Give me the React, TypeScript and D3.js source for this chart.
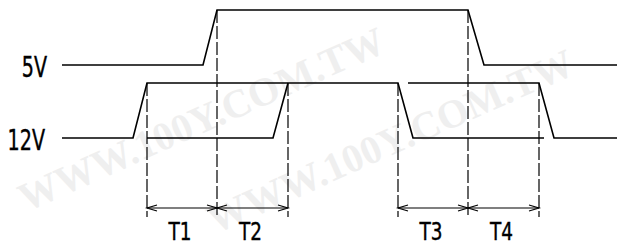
import { useEffect, useRef } from "react";
import * as d3 from "d3";

// time axis in arbitrary units, 0 = where the traces start
const signalNames = ["5V", "12V"];

// [time, level] 0 = low, 1 = high
const trace5V: [number, number][] = [
  [0, 0], [141, 0], [155, 1], [406, 1], [422, 0], [555, 0],
];
const trace12VA: [number, number][] = [
  [0, 0], [71, 0], [85, 1], [336, 1], [351, 0], [482, 0],
];
const trace12VB1: [number, number][] = [
  [85, 0], [211, 0], [226, 1],
];
const trace12VB2: [number, number][] = [
  [346, 1], [477, 1], [492, 0], [555, 0],
];

// dashed markers: time + which signal they hang from
const markerTimes = [85, 155, 226, 336, 406, 477];
const markerFrom = ["12V", "5V", "12V", "12V", "5V", "12V"];

const intervalNames = ["T1", "T2", "T3", "T4"];
const intervalStart = [85, 155, 336, 406];
const intervalEnd = [155, 226, 406, 477];

const watermark = "WWW.100Y.COM.TW";
const wmSpots = [
  [26, 212], [215, 234],
];

const W = 617;
const H = 244;

export default function App() {
  const ref = useRef<SVGSVGElement>(null);

  useEffect(() => {
    const svg = d3.select(ref.current);
    svg.selectAll("*").remove();

    const x = d3.scaleLinear().domain([0, 555]).range([62, 617]);
    const row = d3.scalePoint().domain(signalNames).range([65, 138]);
    const amp = d3.scaleLinear().domain([0, 1]).range([0, -55]);
    const yOf = (name: string) => (lvl: number) => (row(name) as number) + amp(lvl);

    // watermark
    svg
      .append("g")
      .selectAll("text")
      .data(wmSpots)
      .join("text")
      .attr("transform", (d) => `translate(${d[0]},${d[1]}) rotate(-24)`)
      .attr("font-family", "'Liberation Serif', 'DejaVu Serif', serif")
      .attr("font-weight", "bold")
      .attr("font-size", 40)
      .attr("fill", "#efefef")
      .text(watermark);

    const line = (name: string) =>
      d3
        .line<[number, number]>()
        .x((d) => x(d[0]))
        .y((d) => yOf(name)(d[1]));

    const traces: [string, [number, number][]][] = [
      ["5V", trace5V],
      ["12V", trace12VA],
      ["12V", trace12VB1],
      ["12V", trace12VB2],
    ];
    svg
      .append("g")
      .selectAll("path")
      .data(traces)
      .join("path")
      .attr("d", (d) => line(d[0])(d[1]))
      .attr("fill", "none")
      .attr("stroke", "#000")
      .attr("stroke-width", 1.6);

    // dashed markers
    const arrowY = 208;
    svg
      .append("g")
      .selectAll("line")
      .data(markerTimes)
      .join("line")
      .attr("x1", (d) => x(d))
      .attr("x2", (d) => x(d))
      .attr("y1", (d, i) => yOf(markerFrom[i])(1))
      .attr("y2", 217)
      .attr("stroke", "#000")
      .attr("stroke-width", 1.2)
      .attr("stroke-dasharray", "13,3");

    // double arrows
    const arrows = svg.append("g").attr("stroke", "#000").attr("fill", "none").attr("stroke-width", 1.2);
    intervalNames.forEach((n, i) => {
      const a = x(intervalStart[i]);
      const b = x(intervalEnd[i]);
      arrows.append("line").attr("x1", a).attr("x2", b).attr("y1", arrowY).attr("y2", arrowY);
      arrows
        .append("path")
        .attr("d", `M${a + 10},${arrowY - 3}L${a},${arrowY}L${a + 10},${arrowY + 3}`);
      arrows
        .append("path")
        .attr("d", `M${b - 10},${arrowY - 3}L${b},${arrowY}L${b - 10},${arrowY + 3}`);
    });

    const font = "'DejaVu Sans Condensed', 'Liberation Sans Narrow', sans-serif";

    svg
      .append("g")
      .selectAll("text")
      .data(intervalNames)
      .join("text")
      .attr("transform", (d, i) =>
        `translate(${(x(intervalStart[i]) + x(intervalEnd[i])) / 2 - 2},240) scale(0.82,1)`)
      .attr("text-anchor", "middle")
      .attr("font-family", font)
      .attr("font-size", 25)
      .attr("fill", "#000")
      .attr("stroke", "#000")
      .attr("stroke-width", 0.4)
      .text((d) => d);

    svg
      .append("g")
      .selectAll("text")
      .data(signalNames)
      .join("text")
      .attr("transform", (d) =>
        `translate(${d === "5V" ? 47 : 45},${(row(d) as number) + 12}) scale(0.76,1)`)
      .attr("text-anchor", "end")
      .attr("font-family", font)
      .attr("font-size", 28)
      .attr("fill", "#000")
      .attr("stroke", "#000")
      .attr("stroke-width", 0.4)
      .text((d) => d);
  }, []);

  return (
    <svg
      ref={ref}
      width={W}
      height={H}
      style={{ position: "absolute", left: 0, top: 0, background: "#fff" }}
    />
  );
}
